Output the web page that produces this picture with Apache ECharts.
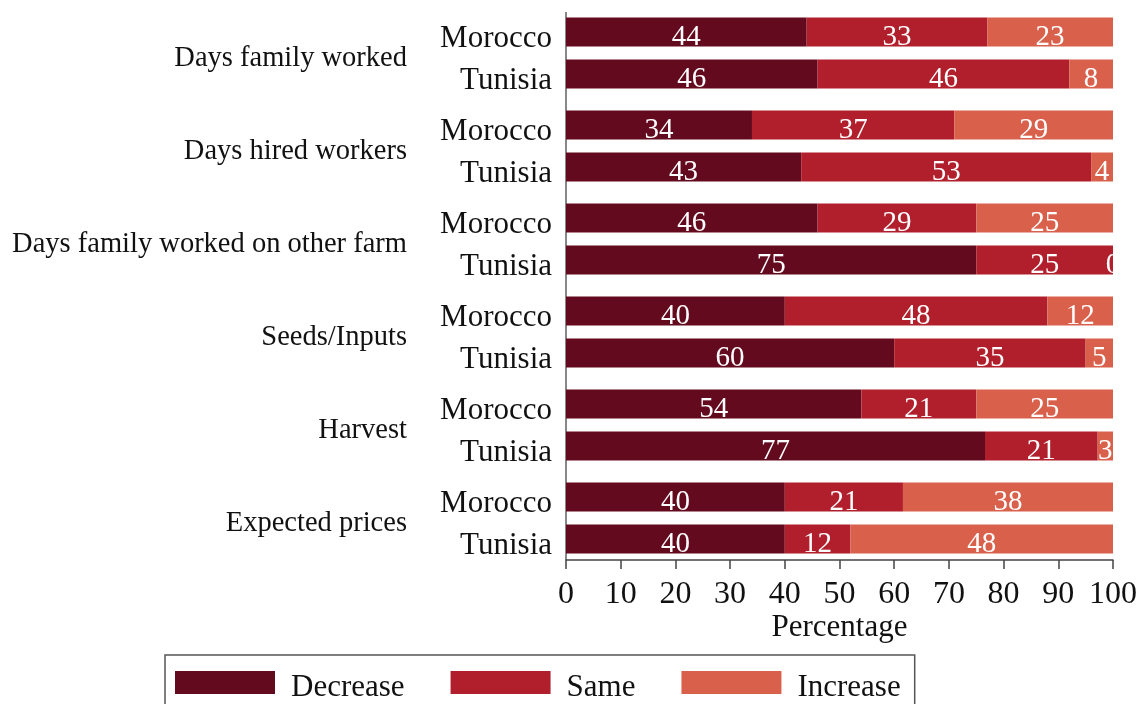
<!DOCTYPE html>
<html>
<head>
<meta charset="utf-8">
<script src="https://cdn.jsdelivr.net/npm/echarts@6/dist/echarts.min.js"></script>
<style>
html,body{margin:0;padding:0;background:#fff;}
#chart{width:1138px;height:704px;}
</style>
</head>
<body>
<div id="chart"></div>
<script>
const groups = ['Days family worked', 'Days hired workers', 'Days family worked on other farm', 'Seeds/Inputs', 'Harvest', 'Expected prices'];
const countries = ['Morocco', 'Tunisia'];
// bar lengths as drawn (percent)
const decrease = [44, 46, 34, 43, 46, 75, 40, 60, 54, 76.6, 40, 40];
const same     = [33, 46, 37, 53, 29, 25, 48, 35, 21, 20.6, 21.6, 12];
const increase = [23, 8, 29, 4, 25, 0, 12, 5, 25, 2.8, 38.4, 48];
// printed labels
const decreaseLabels = [44, 46, 34, 43, 46, 75, 40, 60, 54, 77, 40, 40];
const sameLabels     = [33, 46, 37, 53, 29, 25, 48, 35, 21, 21, 21, 12];
const increaseLabels = [23, 8, 29, 4, 25, 0, 12, 5, 25, 3, 38, 48];
const seriesNames = ['Decrease', 'Same', 'Increase'];
const seriesValues = [decrease, same, increase];
const seriesLabels = [decreaseLabels, sameLabels, increaseLabels];
const colors = ['#640a1e', '#b01f2b', '#d9614c'];
const xMin = 0, xMax = 100, xInterval = 10;

const FONT = "'Liberation Serif', 'Times New Roman', serif";
const LEFT = 566, RIGHT = 25, TOP0 = 11, STEP = 93, H = 84;

const grids = [], xAxes = [], yAxes = [], series = [];
groups.forEach((g, i) => {
  const last = i === groups.length - 1;
  grids.push({ left: LEFT, right: RIGHT, top: TOP0 + STEP * i, height: H, containLabel: false, outerBoundsMode: 'none' });
  xAxes.push({
    type: 'value', gridIndex: i, min: xMin, max: xMax, interval: xInterval,
    show: last,
    name: last ? 'Percentage' : '', nameLocation: 'middle', nameGap: 50,
    nameTextStyle: { fontFamily: FONT, fontSize: 31, color: '#111' },
    axisLine: { show: true, lineStyle: { color: '#444', width: 1.5 } },
    axisTick: { show: true, length: 9, lineStyle: { color: '#444', width: 1.5 } },
    axisLabel: { fontFamily: FONT, fontSize: 32, color: '#111', margin: 19 },
    splitLine: { show: false }
  });
  yAxes.push({
    type: 'category', gridIndex: i, data: countries, inverse: true,
    name: g, nameLocation: 'middle', nameRotate: 0, nameGap: 159,
    nameTextStyle: { fontFamily: FONT, fontSize: 28.5, color: '#111', align: 'right', verticalAlign: 'top', lineHeight: 12 },
    axisLine: { show: false }, axisTick: { show: false },
    axisLabel: { fontFamily: FONT, fontSize: 31, color: '#111', margin: 14, verticalAlign: 'top', lineHeight: 14 }
  });
  seriesNames.forEach((n, k) => {
    const labs = [seriesLabels[k][2 * i], seriesLabels[k][2 * i + 1]];
    series.push({
      type: 'bar', name: n, stack: 'g' + i, xAxisIndex: i, yAxisIndex: i,
      barWidth: 29, clip: true,
      itemStyle: { color: colors[k] },
      label: {
        show: true, position: 'inside', color: '#fff', fontFamily: FONT, fontSize: 29, offset: [0, 5],
        formatter: (p) => String(labs[p.dataIndex])
      },
      data: [seriesValues[k][2 * i], seriesValues[k][2 * i + 1]]
    });
  });
});

const chart = echarts.init(document.getElementById('chart'), null, { renderer: 'canvas' });
chart.setOption({
  animation: false,
  backgroundColor: '#fff',
  color: colors,
  grid: grids, xAxis: xAxes, yAxis: yAxes, series: series,
  legend: {
    data: seriesNames, left: 165, top: 655,
    orient: 'horizontal',
    itemWidth: 100, itemHeight: 23, itemGap: 46,
    padding: [16, 14, 20, 10],
    borderColor: '#555', borderWidth: 1.5, borderRadius: 0,
    icon: 'rect',
    formatter: '{t|{name}}',
    textStyle: {
      fontFamily: FONT, fontSize: 31, color: '#111', padding: [0, 0, 0, 11],
      rich: { t: { fontFamily: FONT, fontSize: 31, color: '#111', padding: [10, 0, 0, 0] } }
    }
  },
  graphic: [{
    type: 'line', silent: true,
    shape: { x1: LEFT, y1: 12, x2: LEFT, y2: TOP0 + STEP * (groups.length - 1) + H },
    style: { stroke: '#888', lineWidth: 2 }
  }]
});
</script>
</body>
</html>
